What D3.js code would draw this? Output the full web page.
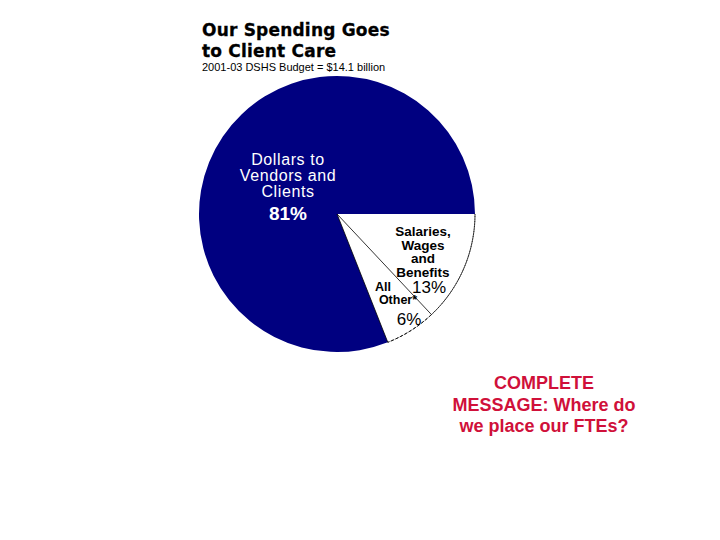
<!DOCTYPE html>
<html>
<head>
<meta charset="utf-8">
<script src="https://cdn.jsdelivr.net/npm/d3@7"></script>
<style>
  body { margin: 0; background: #fff; }
  text { font-family: "Liberation Sans", Arial, sans-serif; }
</style>
</head>
<body>
<div id="chart"></div>
<script>
// slice order follows the reference: clockwise from 3 o'clock
const categories = ["Salaries, Wages and Benefits", "All Other*", "Dollars to Vendors and Clients"]
const shares = [13, 6, 81]
const fills = ["#ffffff", "#ffffff", "#000080"]

const svg = d3.select("#chart")
  .append("svg")
    .attr("width", 720)
    .attr("height", 540)

const cx = 337, cy = 214, r = 138

const pie = d3.pie()
  .sort(null)
  .startAngle(Math.PI / 2)
  .endAngle(Math.PI / 2 + 2 * Math.PI)

const arcs = pie(shares)
const arc = d3.arc().innerRadius(0).outerRadius(r)

const g = svg.append("g")
  .attr("transform", `translate(${cx},${cy})`)

g.selectAll("path.slice")
  .data(arcs)
  .enter()
  .append("path")
    .attr("class", "slice")
    .attr("d", arc)
    .attr("fill", (d, i) => fills[i])

// thin dotted rim on the white slices, solid spokes between them
const rim = d3.arc().innerRadius(r).outerRadius(r)
g.selectAll("path.rim")
  .data(arcs.slice(0, 2))
  .enter()
  .append("path")
    .attr("class", "rim")
    .attr("d", rim)
    .attr("fill", "none")
    .attr("stroke", "#000")
    .attr("stroke-width", 0.8)
    .attr("stroke-dasharray", "3,2")

g.selectAll("line.spoke")
  .data(arcs.slice(1, 3))
  .enter()
  .append("line")
    .attr("x1", 0).attr("y1", 0)
    .attr("x2", d => r * Math.sin(d.startAngle))
    .attr("y2", d => -r * Math.cos(d.startAngle))
    .attr("stroke", "#000")
    .attr("stroke-width", 0.8)

// titles
;["Our Spending Goes", "to Client Care"].forEach((t, i) => {
  svg.append("text")
    .attr("x", 202).attr("y", 36 + i * 21)
    .style("font-family", "'DejaVu Sans', sans-serif")
    .attr("font-size", 17).attr("font-weight", "bold")
    .attr("letter-spacing", 0.2)
    .attr("stroke", "#000").attr("stroke-width", 0.3)
    .text(t)
})
svg.append("text")
  .attr("x", 202).attr("y", 71)
  .attr("font-size", 11)
  .text("2001-03 DSHS Budget = $14.1 billion")

// slice labels
const big = svg.append("g").attr("fill", "#fff").attr("text-anchor", "middle")
;["Dollars to", "Vendors and", "Clients"].forEach((t, i) => {
  big.append("text").attr("x", 288).attr("y", 165 + i * 16)
    .attr("font-size", 16).attr("letter-spacing", 0.6).text(t)
})
big.append("text").attr("x", 288).attr("y", 220)
  .attr("font-size", 19).attr("font-weight", "bold").text(shares[2] + "%")

const sal = svg.append("g").attr("text-anchor", "middle")
;["Salaries,", "Wages", "and", "Benefits"].forEach((t, i) => {
  sal.append("text").attr("x", 423).attr("y", 236 + i * 13.5)
    .attr("font-size", 13.5).attr("font-weight", "bold").text(t)
})
sal.append("text").attr("x", 429).attr("y", 293)
  .attr("font-size", 17).text(shares[0] + "%")

svg.append("text").attr("x", 383).attr("y", 291).attr("text-anchor", "middle")
  .attr("font-size", 12.5).attr("font-weight", "bold").text("All")
svg.append("text").attr("x", 398).attr("y", 304).attr("text-anchor", "middle")
  .attr("font-size", 12.5).attr("font-weight", "bold").text("Other*")
svg.append("text").attr("x", 409).attr("y", 325).attr("text-anchor", "middle")
  .attr("font-size", 17).text(shares[1] + "%")

// note in red
const note = svg.append("g").attr("fill", "#d0103a").attr("text-anchor", "middle")
;["COMPLETE", "MESSAGE: Where do", "we place our FTEs?"].forEach((t, i) => {
  note.append("text").attr("x", 544).attr("y", 389 + i * 21.5)
    .attr("font-size", 18).attr("font-weight", "bold").text(t)
})
</script>
</body>
</html>
